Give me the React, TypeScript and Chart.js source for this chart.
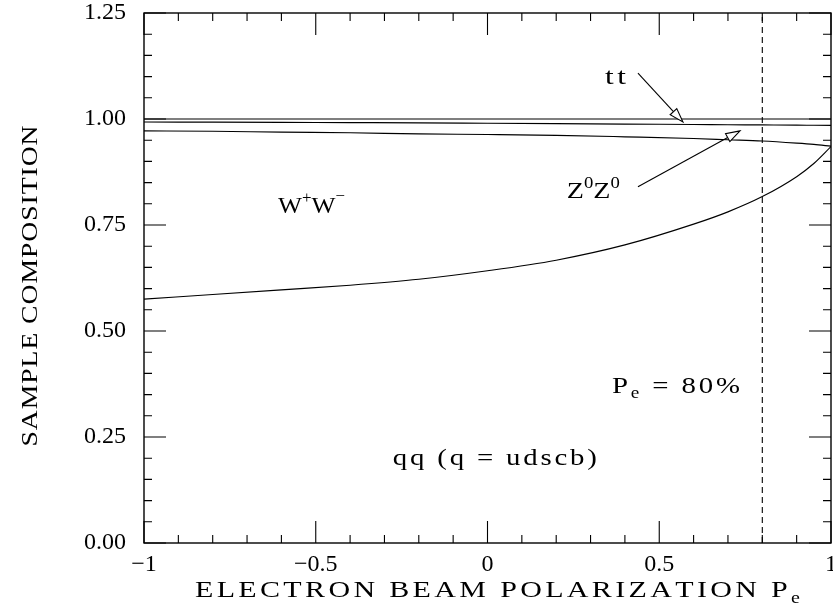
import React, { useEffect, useRef } from "react";
import { Chart, registerables } from "chart.js";

Chart.register(...registerables);

// ---- data ----
const polarization = [-1, -0.8, -0.6, -0.4, -0.2, 0, 0.2, 0.4, 0.6, 0.7, 0.8, 0.9, 0.95, 1];
const ttTop = [1, 1, 1, 1, 1, 1, 1, 1, 1, 1, 1, 1, 1, 1];
const zzTop = [0.993, 0.9925, 0.992, 0.9915, 0.991, 0.99, 0.989, 0.988, 0.987, 0.9865, 0.986, 0.9855, 0.9852, 0.985];
const wwTop = [0.972, 0.971, 0.969, 0.9675, 0.965, 0.9635, 0.9615, 0.958, 0.954, 0.951, 0.948, 0.943, 0.94, 0.936];
const qqTop = [0.575, 0.586, 0.597, 0.608, 0.622, 0.642, 0.667, 0.703, 0.752, 0.781, 0.817, 0.864, 0.895, 0.935];
const dashedAt = 0.8;

const xTickValues = [-1, -0.5, 0, 0.5, 1];
const xTickLabels = ["\u22121", "\u22120.5", "0", "0.5", "1"];
const yTickValues = [0, 0.25, 0.5, 0.75, 1.0, 1.25];
const yTickLabels = ["0.00", "0.25", "0.50", "0.75", "1.00", "1.25"];

const xTitle = "ELECTRON BEAM POLARIZATION P";
const xTitleSub = "e";
const yTitle = "SAMPLE COMPOSITION";

const FONT = "'Liberation Serif', 'Times New Roman', serif";

type Seg = { t: string; size: number; dy: number };

function drawRich(
  ctx: CanvasRenderingContext2D,
  segs: Seg[],
  x: number,
  y: number,
  targetWidth: number,
  align: "left" | "center",
  maxStretch = 1.2
) {
  let natural = 0;
  let n = 0;
  for (const s of segs) {
    ctx.font = `${s.size}px ${FONT}`;
    for (const ch of s.t) {
      natural += ctx.measureText(ch).width;
      n++;
    }
  }
  const stretch = Math.max(1, Math.min(maxStretch, targetWidth / natural));
  const ls = n > 1 ? (targetWidth - natural * stretch) / (n - 1) : 0;
  const total = natural * stretch + ls * (n - 1);
  let cx = align === "center" ? x - total / 2 : x;
  ctx.textAlign = "left";
  ctx.textBaseline = "alphabetic";
  for (const s of segs) {
    ctx.font = `${s.size}px ${FONT}`;
    for (const ch of s.t) {
      ctx.save();
      ctx.translate(cx, y + s.dy);
      ctx.scale(stretch, 1);
      ctx.fillText(ch, 0, 0);
      ctx.restore();
      cx += ctx.measureText(ch).width * stretch + ls;
    }
  }
}

function arrow(ctx: CanvasRenderingContext2D, x1: number, y1: number, x2: number, y2: number) {
  const ang = Math.atan2(y2 - y1, x2 - x1);
  const L = 14;
  const W = 4.5;
  const bx = x2 - L * Math.cos(ang);
  const by = y2 - L * Math.sin(ang);
  ctx.save();
  ctx.beginPath();
  ctx.moveTo(x1, y1);
  ctx.lineTo(bx, by);
  ctx.stroke();
  ctx.beginPath();
  ctx.moveTo(x2, y2);
  ctx.lineTo(bx + W * Math.sin(ang), by - W * Math.cos(ang));
  ctx.lineTo(bx - W * Math.sin(ang), by + W * Math.cos(ang));
  ctx.closePath();
  ctx.fillStyle = "#fff";
  ctx.fill();
  ctx.stroke();
  ctx.restore();
}

const framePlugin = {
  id: "framePlugin",
  beforeDraw(chart: any) {
    const ctx = chart.ctx;
    ctx.save();
    ctx.fillStyle = "#fff";
    ctx.fillRect(0, 0, chart.width, chart.height);
    ctx.restore();
  },
  afterDraw(chart: any) {
    const ctx: CanvasRenderingContext2D = chart.ctx;
    const xs = chart.scales.x;
    const ys = chart.scales.y;
    const { left, right, top, bottom } = chart.chartArea;
    ctx.save();
    ctx.strokeStyle = "#000";
    ctx.lineWidth = 1.4;
    ctx.strokeRect(left, top, right - left, bottom - top);

    // inward ticks
    ctx.lineWidth = 1.1;
    ctx.beginPath();
    for (let i = 0; i <= 20; i++) {
      const v = -1 + i * 0.1;
      const len = i % 5 === 0 ? 22 : 8;
      const px = xs.getPixelForValue(v);
      ctx.moveTo(px, bottom);
      ctx.lineTo(px, bottom - len);
      ctx.moveTo(px, top);
      ctx.lineTo(px, top + len);
    }
    for (let i = 0; i <= 25; i++) {
      const v = i * 0.05;
      const len = i % 5 === 0 ? 22 : 8;
      const py = ys.getPixelForValue(v);
      ctx.moveTo(left, py);
      ctx.lineTo(left + len, py);
      ctx.moveTo(right, py);
      ctx.lineTo(right - len, py);
    }
    ctx.stroke();

    const X = (v: number) => xs.getPixelForValue(v);
    const Y = (v: number) => ys.getPixelForValue(v);

    // arrows
    ctx.strokeStyle = "#000";
    ctx.lineWidth = 1.1;
    arrow(ctx, X(0.438), Y(1.108), X(0.569), Y(0.993));
    arrow(ctx, X(0.438), Y(0.84), X(0.735), Y(0.972));

    // annotations
    ctx.fillStyle = "#000";
    drawRich(ctx, [{ t: "tt", size: 24, dy: 0 }], X(0.342), Y(1.0825), 21, "left", 1.3);
    drawRich(
      ctx,
      [
        { t: "Z", size: 24, dy: 0 },
        { t: "0", size: 16, dy: -10 },
        { t: "Z", size: 24, dy: 0 },
        { t: "0", size: 16, dy: -10 },
      ],
      X(0.231),
      Y(0.8137),
      53,
      "left"
    );
    drawRich(
      ctx,
      [
        { t: "W", size: 24, dy: 0 },
        { t: "+", size: 16, dy: -10 },
        { t: "W", size: 24, dy: 0 },
        { t: "\u2212", size: 16, dy: -12 },
      ],
      X(-0.61),
      Y(0.778),
      67,
      "left"
    );
    drawRich(ctx, [{ t: "qq (q = udscb)", size: 24, dy: 0 }], X(-0.2755), Y(0.184), 204, "left");
    drawRich(
      ctx,
      [
        { t: "P", size: 24, dy: 0 },
        { t: "e", size: 16, dy: 5 },
        { t: " = 80%", size: 24, dy: 0 },
      ],
      X(0.3624),
      Y(0.354),
      128,
      "left"
    );

    // axis titles
    ctx.fillStyle = "#000";
    drawRich(
      ctx,
      [
        { t: xTitle, size: 24, dy: 0 },
        { t: xTitleSub, size: 16, dy: 6 },
      ],
      195,
      597,
      605,
      "left",
      1.25
    );
    ctx.save();
    ctx.translate(37, 286);
    ctx.rotate(-Math.PI / 2);
    drawRich(ctx, [{ t: yTitle, size: 24, dy: 0 }], 0, 0, 321, "center", 1.15);
    ctx.restore();

    ctx.restore();
  },
};

function zeroPad(scale: any) {
  scale.paddingLeft = 0;
  scale.paddingRight = 0;
  scale.paddingTop = 0;
  scale.paddingBottom = 0;
}

export default function App() {
  const ref = useRef<HTMLCanvasElement>(null);

  useEffect(() => {
    const canvas = ref.current;
    if (!canvas) return;
    const lineStyle = {
      borderColor: "#000",
      borderWidth: 1.15,
      pointRadius: 0,
      fill: false,
      cubicInterpolationMode: "monotone" as const,
    };
    const chart = new Chart(canvas, {
      type: "line",
      data: {
        datasets: [
          { ...lineStyle, data: polarization.map((x, i) => ({ x, y: ttTop[i] })) },
          { ...lineStyle, data: polarization.map((x, i) => ({ x, y: zzTop[i] })) },
          { ...lineStyle, data: polarization.map((x, i) => ({ x, y: wwTop[i] })) },
          { ...lineStyle, data: polarization.map((x, i) => ({ x, y: qqTop[i] })) },
          {
            borderColor: "#000",
            borderWidth: 1.1,
            borderDash: [6, 4],
            pointRadius: 0,
            tension: 0,
            data: [
              { x: dashedAt, y: 0 },
              { x: dashedAt, y: 1.25 },
            ],
          },
        ],
      },
      options: {
        responsive: false,
        animation: false,
        layout: { padding: { left: 0, top: 13, right: 2, bottom: 0 } },
        plugins: { legend: { display: false }, tooltip: { enabled: false } },
        scales: {
          x: {
            type: "linear",
            min: -1,
            max: 1,
            afterBuildTicks: (s: any) => {
              s.ticks = xTickValues.map((v) => ({ value: v }));
            },
            ticks: {
              autoSkip: false,
              maxRotation: 0,
              padding: 7,
              color: "#000",
              font: { family: FONT, size: 24 },
              callback: (_v: any, i: number) => xTickLabels[i],
            },
            grid: { display: false, drawTicks: false },
            border: { display: false },
            afterFit: (s: any) => {
              s.height = 64;
              zeroPad(s);
            },
          },
          y: {
            type: "linear",
            min: 0,
            max: 1.25,
            afterBuildTicks: (s: any) => {
              s.ticks = yTickValues.map((v) => ({ value: v }));
            },
            ticks: {
              autoSkip: false,
              padding: 18,
              color: "#000",
              font: { family: FONT, size: 24 },
              callback: (_v: any, i: number) => yTickLabels[i],
            },
            grid: { display: false, drawTicks: false },
            border: { display: false },
            afterFit: (s: any) => {
              s.width = 144;
              zeroPad(s);
            },
          },
        },
      },
      plugins: [framePlugin],
    });
    return () => chart.destroy();
  }, []);

  return (
    <div style={{ position: "absolute", left: 0, top: 0, width: 833, height: 607, background: "#fff" }}>
      <canvas ref={ref} width={833} height={607} style={{ display: "block", width: 833, height: 607 }} />
    </div>
  );
}
